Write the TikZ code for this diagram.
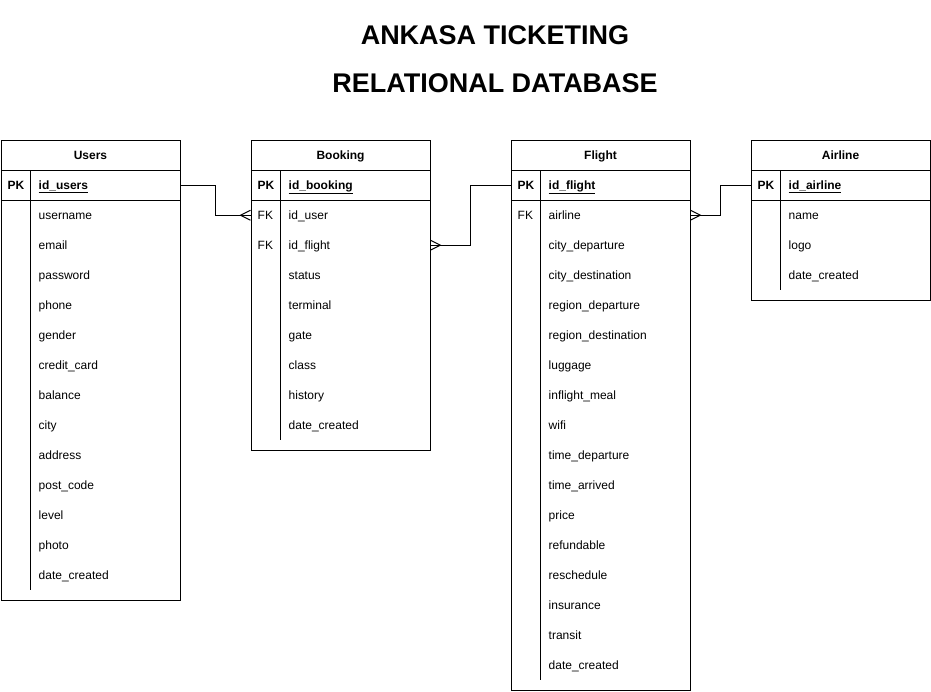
\documentclass[tikz,border=0pt]{standalone}
\usepackage{fontspec}
\setmainfont{Liberation Sans}
\usetikzlibrary{calc}
\tikzset{
  tbl/.style={draw, line width=1pt, minimum width=179.5pt, inner sep=0pt, anchor=north west},
  pkrow/.style={draw, line width=1pt, minimum width=179.5pt, minimum height=30pt, inner sep=0pt, anchor=north west},
  frow/.style={minimum width=179.5pt, minimum height=30pt, inner sep=0pt, anchor=north west},
  hdr/.style={anchor=base, font=\bfseries\fontsize{12}{14}\selectfont, inner sep=0pt},
  fld/.style={anchor=base west, inner sep=0pt, font=\fontsize{12}{14}\selectfont},
  bfld/.style={anchor=base west, inner sep=0pt, font=\bfseries\fontsize{12}{14}\selectfont},
  divline/.style={line width=1pt},
  conn/.style={line width=1pt},
  ttl/.style={anchor=base, font=\bfseries\fontsize{27}{30}\selectfont, inner sep=0pt},
}
\newcommand{\erdtable}[6]{%
  % #1 name, #2 left x, #3 title, #4 pk field, #5 number of rows, #6 rows list key/field
  \node[tbl, minimum height={30pt*(#5)+70pt}] (#1) at (#2,140) {};
  \node[hdr] (#1-title) at (#2+90,159.3) {#3};
  \node[pkrow] (#1-pk) at (#2,170) {};
  \node[bfld] (#1-pkkey) at (#2+7,189.3) {PK};
  \node[bfld] (#1-pkname) at (#2+38,189.3) {\underline{#4}};
  \draw[divline] (#2+30,170) -- (#2+30,{200+30*(#5)});
  \foreach \k/\f [count=\i] in {#6} {
    \node[frow] (#1-r\i) at (#2,{170+30*\i}) {};
    \node[fld] (#1-k\i) at (#2+7,{189.3+30*\i}) {\k};
    \node[fld] (#1-f\i) at (#2+38,{189.3+30*\i}) {\f};
  }
}
\begin{document}
\begin{tikzpicture}[x=1pt,y=-1pt]
\useasboundingbox (0,0) rectangle (931,691);
\node[ttl] (title1) at (495,44) {ANKASA TICKETING};
\node[ttl] (title2) at (495,92) {RELATIONAL DATABASE};

\erdtable{users}{0.5}{Users}{id\_users}{13}{%
  /username, /email, /password, /phone, /gender, /credit\_card, /balance, /city,
  /address, /post\_code, /level, /photo, /date\_created}
\erdtable{booking}{250.5}{Booking}{id\_booking}{8}{%
  FK/id\_user, FK/id\_flight, /status, /terminal, /gate, /class, /history, /date\_created}
\erdtable{flight}{510.5}{Flight}{id\_flight}{16}{%
  FK/airline, /city\_departure, /city\_destination, /region\_departure,
  /region\_destination, /luggage, /inflight\_meal, /wifi, /time\_departure,
  /time\_arrived, /price, /refundable, /reschedule, /insurance, /transit, /date\_created}
\erdtable{airline}{750.5}{Airline}{id\_airline}{3}{%
  /name, /logo, /date\_created}

% Users.id_users -> Booking.id_user (many)
\draw[conn] (users-pk.east) -- ++(34,0) |- (booking-r1.west);
\draw[conn] ($(booking-r1.west)+(0,-5)$) -- ($(booking-r1.west)+(-10,0)$) -- ($(booking-r1.west)+(0,5)$);
% Booking.id_flight (many) -> Flight.id_flight
\draw[conn] (booking-r2.east) -- ++(40,0) |- (flight-pk.west);
\draw[conn] ($(booking-r2.east)+(0,-5)$) -- ($(booking-r2.east)+(10,0)$) -- ($(booking-r2.east)+(0,5)$);
% Flight.airline (many) -> Airline.id_airline
\draw[conn] (flight-r1.east) -- ++(30,0) |- (airline-pk.west);
\draw[conn] ($(flight-r1.east)+(0,-5)$) -- ($(flight-r1.east)+(10,0)$) -- ($(flight-r1.east)+(0,5)$);
\end{tikzpicture}
\end{document}
